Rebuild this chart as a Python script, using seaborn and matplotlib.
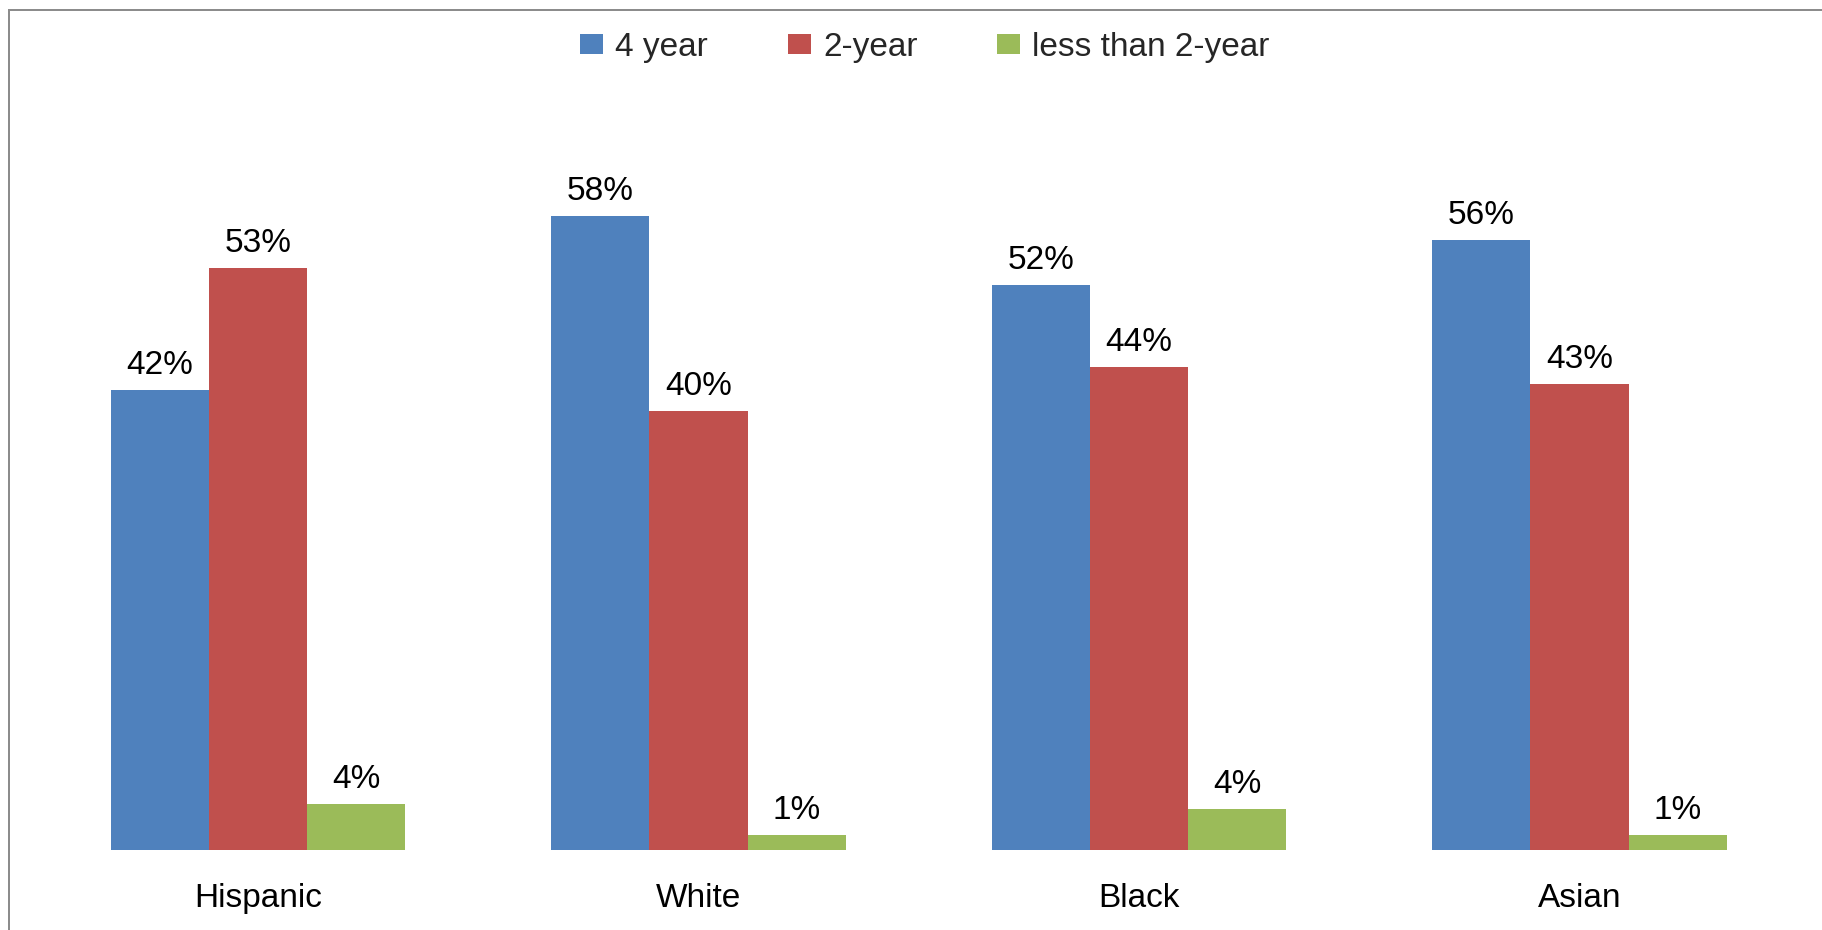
import matplotlib
matplotlib.use("Agg")
import matplotlib.pyplot as plt
from matplotlib.patches import Rectangle
import seaborn as sns
import pandas as pd

# ---- data ----
groups = ["Hispanic", "White", "Black", "Asian"]
series_names = ["4 year", "2-year", "less than 2-year"]
four_year = [42.0, 57.9, 51.6, 55.7]
two_year = [53.2, 40.1, 44.1, 42.6]
less_two_year = [4.2, 1.4, 3.8, 1.4]
colors = ["#4F81BD", "#C0504D", "#9BBB59"]

rows = []
for name, vals in zip(series_names, [four_year, two_year, less_two_year]):
    for g, v in zip(groups, vals):
        rows.append({"group": g, "series": name, "value": v})
df = pd.DataFrame(rows)

sns.set_theme(style="white")
plt.rcParams["font.family"] = ["Liberation Sans", "DejaVu Sans"]

FS = 24
fig = plt.figure(figsize=(18.22, 9.30), dpi=100)
ax = fig.add_axes([0.02072, 0.0857, 0.96707, 0.8242])

sns.barplot(data=df, x="group", y="value", hue="series", order=groups,
            hue_order=series_names, palette=colors, saturation=1,
            width=0.6686, linewidth=0, errorbar=None, ax=ax)

ax.set_xlim(-0.5, 3.5)
ax.set_ylim(0, 70)
ax.set_xlabel("")
ax.set_ylabel("")
ax.set_yticks([])
for s in ax.spines.values():
    s.set_visible(False)
ax.tick_params(axis="x", length=0, pad=23.5, labelsize=FS, colors="black")

# data labels
for cont in ax.containers:
    for p in cont.patches:
        h = p.get_height()
        ax.annotate(f"{h:.0f}%", (p.get_x() + p.get_width() / 2, h),
                    xytext=(0, 11.5), textcoords="offset points",
                    ha="center", va="baseline", fontsize=FS, color="black")

handles, labels = ax.get_legend_handles_labels()
ax.legend(handles, labels, loc="center", bbox_to_anchor=(0.5077, 0.949),
          bbox_transform=fig.transFigure, ncol=3, frameon=False,
          handlelength=0.69, handleheight=0.51, handletextpad=0.36,
          columnspacing=2.4, fontsize=FS, borderaxespad=0)

# outer chart frame (extends past right/bottom edges)
fig.patches.append(Rectangle((9 / 1822, -0.1), 1.2, 1.1 - 10 / 930,
                             transform=fig.transFigure, fill=False,
                             edgecolor="#8C8C8C", linewidth=1.44))

fig.savefig("out.png", dpi=100, facecolor="white")
